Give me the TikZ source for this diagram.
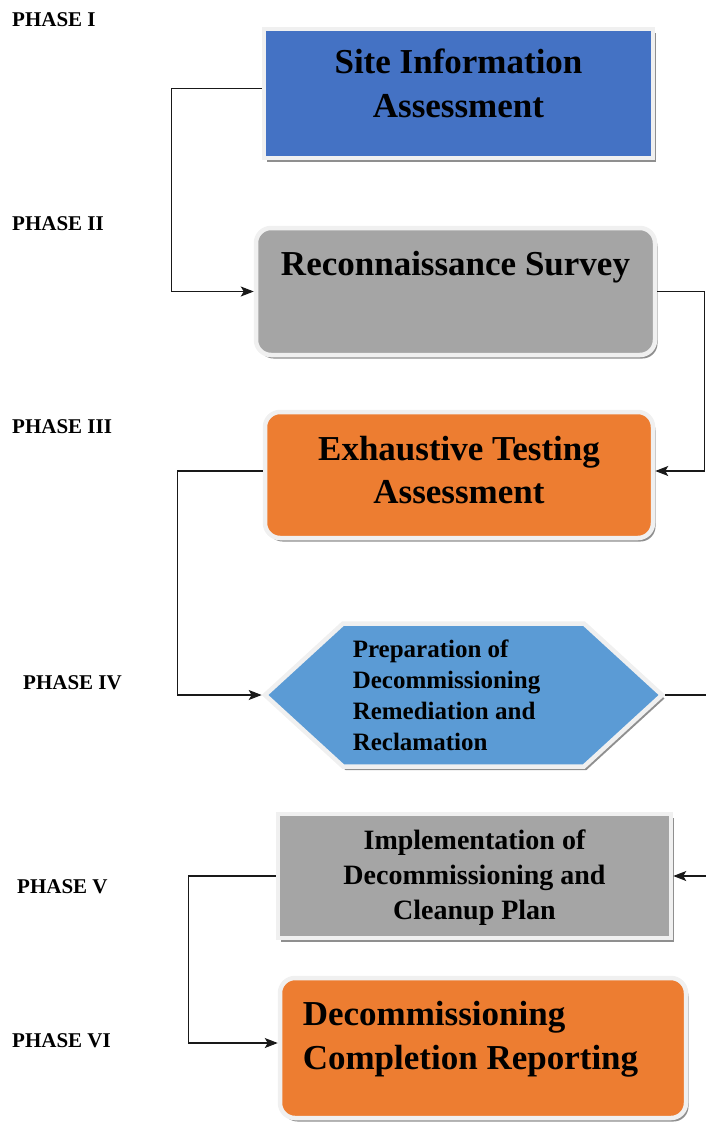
\documentclass[tikz,border=0pt]{standalone}
\usepackage{fontspec}
\setmainfont{Liberation Serif}
\usetikzlibrary{arrows.meta,shadows,shapes.symbols}

\definecolor{boxblue}{HTML}{4472C4}
\definecolor{boxgray}{HTML}{A5A5A5}
\definecolor{boxorange}{HTML}{ED7D31}
\definecolor{hexblue}{HTML}{5B9BD5}
\definecolor{rim}{HTML}{F0F0F0}

\newcommand\bigtxt{\fontsize{35}{43.5}\selectfont\bfseries}
\newcommand\midtxt{\fontsize{28}{35}\selectfont\bfseries}
\newcommand\smalltxt{\fontsize{25}{31}\selectfont\bfseries}

\tikzset{
  box/.style={draw=rim, line width=4.5pt,
    drop shadow={shadow xshift=2.5pt, shadow yshift=-3.5pt, fill=black!55, opacity=.8}},
  rbox/.style={box, rounded corners=15pt},
  phase/.style={anchor=base west, inner sep=0pt, font=\fontsize{21}{21}\selectfont\bfseries},
  link/.style={line width=1.1pt, black!90, -{Stealth[length=13pt,width=10pt,inset=3pt]}}
}

\begin{document}
\begin{tikzpicture}[x=1pt,y=-1pt]
  \useasboundingbox (0,0) rectangle (706,1125);
  % phase labels down the left side
  \node[phase] (ph1) at (12,26)   {PHASE I};
  \node[phase] (ph2) at (12,230)  {PHASE II};
  \node[phase] (ph3) at (12,433)  {PHASE III};
  \node[phase] (ph4) at (23,689)  {PHASE IV};
  \node[phase] (ph5) at (17,893)  {PHASE V};
  \node[phase] (ph6) at (12,1047) {PHASE VI};

  % the six steps
  \node[box, fill=boxblue, minimum width=389, minimum height=129,
    label={[name=site-txt, align=center, font=\bigtxt, yshift=10pt]center:Site Information\\Assessment}]
    (site) at (458.5,93.5) {};
  \node[rbox, fill=boxgray, minimum width=399, minimum height=127,
    label={[name=recon-txt, font=\bigtxt, yshift=24pt]center:Reconnaissance Survey}]
    (recon) at (455.5,291.5) {};
  \node[rbox, fill=boxorange, minimum width=388, minimum height=126,
    label={[name=exh-txt, align=center, font=\bigtxt, yshift=5pt]center:Exhaustive Testing\\Assessment}]
    (exh) at (459,475) {};
  \node[box, shape=signal, signal to=west and east, signal pointer angle=85,
    fill=hexblue, minimum width=397, minimum height=143,
    label={[name=prep-txt, align=left, font=\smalltxt, xshift=-17pt]center:Preparation of\\Decommissioning\\Remediation and\\Reclamation}]
    (prep) at (463.5,695) {};
  \node[box, fill=boxgray, minimum width=393, minimum height=124,
    label={[name=impl-txt, align=center, font=\midtxt, yshift=-2pt]center:Implementation of\\Decommissioning and\\Cleanup Plan}]
    (impl) at (474.5,876) {};
  \node[rbox, fill=boxorange, minimum width=406, minimum height=140,
    label={[name=report-txt, align=left, font=\bigtxt, xshift=-12.5pt, yshift=9pt]center:Decommissioning\\Completion Reporting}]
    (report) at (483,1048) {};

  % connectors
  \draw[link] ([yshift=5pt]site.west) -- ++(-90,0) |- (recon.west);
  \draw[link] (recon.east) -- ++(47,0) |- ([yshift=4pt]exh.east);
  \draw[link] ([yshift=4pt]exh.west) -- ++(-85,0) |- (prep.west);
  \draw[link] (prep.east) -- ++(42,0) |- (impl.east);
  \draw[link] (impl.west) -- ++(-87,0) |- ([yshift=5pt]report.west);
\end{tikzpicture}
\end{document}
